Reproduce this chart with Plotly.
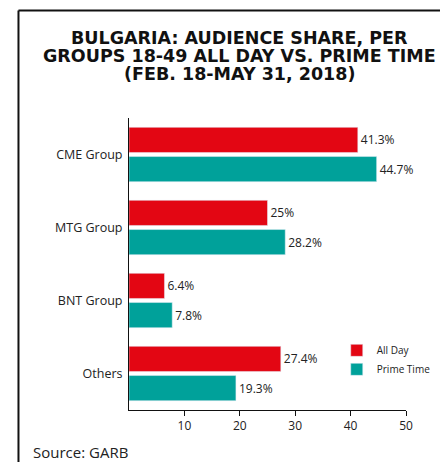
import plotly.graph_objects as go

groups = ["CME Group", "MTG Group", "BNT Group", "Others"]
all_day = [41.3, 25, 6.4, 27.4]
prime_time = [44.7, 28.2, 7.8, 19.3]
all_day_labels = ["41.3%", "25%", "6.4%", "27.4%"]
prime_time_labels = ["44.7%", "28.2%", "7.8%", "19.3%"]
title_lines = [
    "BULGARIA: AUDIENCE SHARE, PER",
    "GROUPS 18-49 ALL DAY VS. PRIME TIME",
    "(FEB. 18-MAY 31, 2018)",
]

RED = "#E30613"
TEAL = "#00A19A"
FONT = "Open Sans, Noto Sans, sans-serif"
TITLE_FONT = "DejaVu Sans, sans-serif"

fig = go.Figure()
fig.add_trace(go.Bar(
    y=groups, x=all_day, name="All Day", orientation="h",
    marker_color=RED, text=all_day_labels, textposition="outside",
    textfont=dict(size=12, color="#222"), cliponaxis=False,
))
fig.add_trace(go.Bar(
    y=groups, x=prime_time, name="Prime Time", orientation="h",
    marker_color=TEAL, text=prime_time_labels, textposition="outside",
    textfont=dict(size=12, color="#222"), cliponaxis=False,
))

# page body adds an 8px offset, so the figure is 8px smaller than the window
fig.update_layout(
    width=440, height=454,
    paper_bgcolor="white", plot_bgcolor="white",
    font=dict(family=FONT, size=12, color="#222"),
    margin=dict(l=121, r=42, t=110, b=52, autoexpand=False),
    barmode="group", bargap=0.2, bargroupgap=0.14,
    legend=dict(
        x=0.75, y=0.254, xanchor="left", yanchor="top",
        font=dict(size=10, color="#222"), bgcolor="rgba(0,0,0,0)",
        itemwidth=30, tracegroupgap=0,
    ),
    showlegend=True,
)
fig.update_xaxes(
    range=[0, 50], tickvals=[10, 20, 30, 40, 50], showgrid=False, zeroline=False,
    showline=True, linecolor="#111", linewidth=1, ticks="outside", ticklen=5,
    tickcolor="#111", tickfont=dict(size=12),
)
fig.update_yaxes(
    autorange="reversed", showgrid=False, showline=True, linecolor="#111",
    linewidth=1, ticks="", ticklabelstandoff=3, tickfont=dict(size=12.5),
)

# title, one annotation per line for tight line spacing
for i, line in enumerate(title_lines):
    fig.add_annotation(text=f"<b>{line}</b>", xref="paper", yref="paper",
                       x=0.4, y=1.274 - i * 0.0625, xanchor="center", yanchor="middle",
                       showarrow=False, font=dict(family=TITLE_FONT, size=17.5, color="#111"))

# frame around the graphic (left and top edges visible)
fig.add_shape(type="line", xref="paper", yref="paper",
              x0=-0.399, x1=-0.399, y0=1.368, y1=-0.3, line=dict(color="#111", width=2))
fig.add_shape(type="line", xref="paper", yref="paper",
              x0=-0.399, x1=1.3, y0=1.368, y1=1.368, line=dict(color="#111", width=2))

fig.add_annotation(text="Source: GARB", xref="paper", yref="paper",
                   x=-0.355, y=-0.103, xanchor="left", yanchor="top", showarrow=False,
                   font=dict(size=15, color="#222"))

fig.write_html("out.html")
